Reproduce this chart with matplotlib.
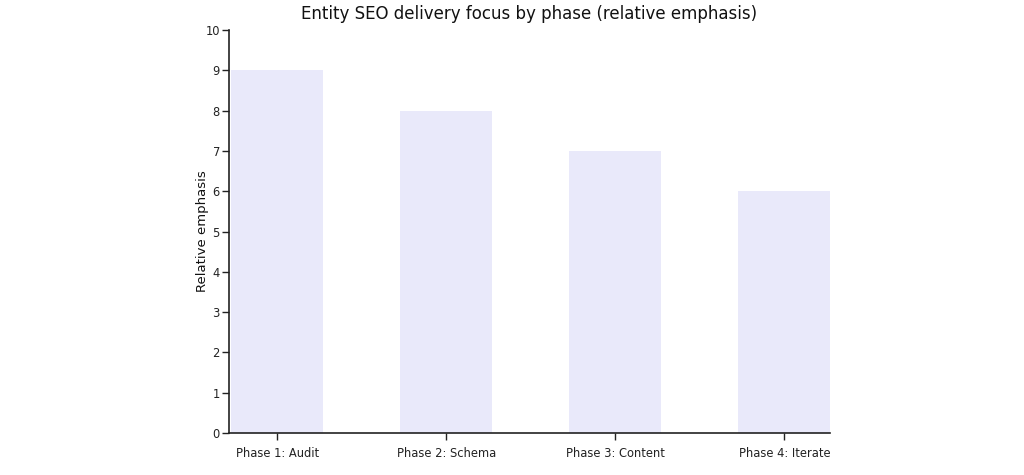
import matplotlib
matplotlib.use("Agg")
import matplotlib.pyplot as plt

phases = ["Phase 1: Audit", "Phase 2: Schema", "Phase 3: Content", "Phase 4: Iterate"]
emphasis = [9, 8, 7, 6]
y_ticks = list(range(0, 11))


def plot_focus(output_path: str) -> None:
    fig = plt.figure(figsize=(10.24, 4.75), dpi=100)
    ax = fig.add_axes([0.2236, 0.0884, 0.5869, 0.8484])

    x = range(len(phases))
    ax.bar(x, emphasis, width=0.545, color="#E9E9FA")

    ax.set_xlim(-0.287, 3.27)
    ax.set_ylim(0, 10)
    ax.set_xticks(list(x))
    ax.set_xticklabels(phases, fontsize=8.3, color="#222222")
    ax.set_yticks(y_ticks)
    ax.set_yticklabels([str(v) for v in y_ticks], fontsize=8.3, color="#222222")
    ax.set_ylabel("Relative emphasis", fontsize=9.5, color="#111111")
    # label sits right next to the tick labels, as in the reference
    ax.yaxis.set_label_coords(-0.034, 0.5)
    ax.set_title("Entity SEO delivery focus by phase (relative emphasis)",
                 fontsize=12, color="#111111", pad=8)

    for side in ("top", "right"):
        ax.spines[side].set_visible(False)
    for side in ("left", "bottom"):
        ax.spines[side].set_color("#222222")
        ax.spines[side].set_linewidth(1.2)
    ax.tick_params(axis="both", colors="#222222", length=5, width=1)
    ax.tick_params(axis="y", pad=1.5)
    ax.tick_params(axis="x", pad=5)
    ax.tick_params(axis="both", labelcolor="#222222")

    fig.savefig(output_path, dpi=100)
    plt.close(fig)


if __name__ == "__main__":
    plot_focus("out.png")
